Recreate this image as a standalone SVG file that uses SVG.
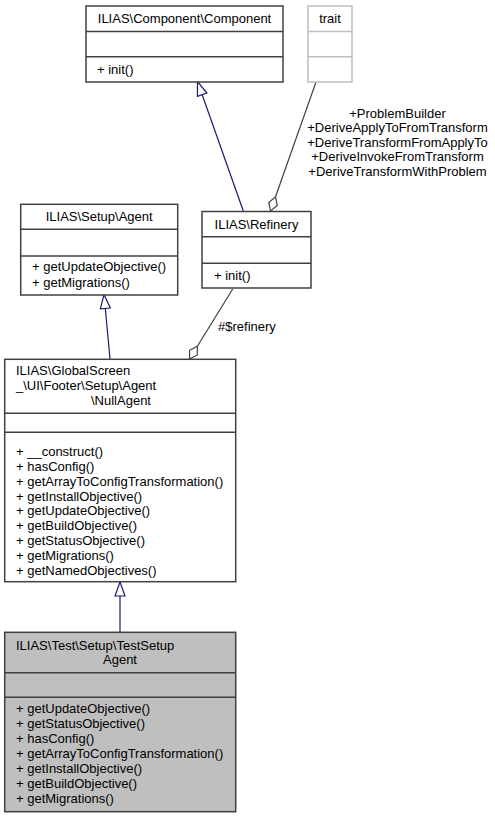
<svg xmlns="http://www.w3.org/2000/svg" width="495" height="817" viewBox="0 0 495 817">
<style>
text{font-family:"Liberation Sans",Arial,sans-serif;font-size:13px;fill:#000}
.box{fill:#fff;stroke:#404040;stroke-width:1.5}
.cur{fill:#bfbfbf;stroke:#404040;stroke-width:1.5}
.tr{fill:#fff;stroke:#bfbfbf;stroke-width:1.5}
.sep{stroke:#404040;stroke-width:1.5}
.tsep{stroke:#bfbfbf;stroke-width:1.5}
.inh{stroke:#191970;stroke-width:1.2;fill:none}
.agg{stroke:#404040;stroke-width:1.2;fill:none}
.c{text-anchor:middle}
</style>
<defs>
<marker id="tri" markerUnits="userSpaceOnUse" markerWidth="16" markerHeight="12" viewBox="-1 -6 16 12" refX="14" refY="0" orient="auto">
<path d="M0,-5 L14,0 L0,5 Z" fill="#fff" stroke="#191970" stroke-width="1.2"/>
</marker>
<marker id="dia" markerUnits="userSpaceOnUse" markerWidth="17" markerHeight="12" viewBox="-1 -6 17 12" refX="15" refY="0" orient="auto">
<path d="M0,0 L7.5,-4.5 L15,0 L7.5,4.5 Z" fill="#fff" stroke="#404040" stroke-width="1.2"/>
</marker>
</defs>
<g id="connectors">
<line class="inh" x1="243.3" y1="211" x2="197.5" y2="81.5" marker-end="url(#tri)"/>
<line class="agg" x1="316" y1="82" x2="270.5" y2="211" marker-end="url(#dia)"/>
<text class="c" x="397.5" y="117.5">+ProblemBuilder</text>
<text class="c" x="397.5" y="132">+DeriveApplyToFromTransform</text>
<text class="c" x="397.5" y="146.7">+DeriveTransformFromApplyTo</text>
<text class="c" x="397.5" y="161.2">+DeriveInvokeFromTransform</text>
<text class="c" x="397.5" y="175.8">+DeriveTransformWithProblem</text>
<line class="inh" x1="110" y1="359" x2="104" y2="294.5" marker-end="url(#tri)"/>
<line class="agg" x1="232.7" y1="289" x2="189.5" y2="359" marker-end="url(#dia)"/>
<text x="218" y="331">#$refinery</text>
<line class="inh" x1="120" y1="632" x2="120" y2="582" marker-end="url(#tri)"/>
</g>
<g id="component">
<rect class="box" x="86" y="6" width="197" height="76"/>
<line class="sep" x1="86" y1="31.5" x2="283" y2="31.5"/>
<line class="sep" x1="86" y1="56.7" x2="283" y2="56.7"/>
<text class="c" x="184.5" y="22.7">ILIAS\Component\Component</text>
<text x="97" y="73.5">+ init()</text>
</g>
<g id="trait">
<rect class="tr" x="308" y="6" width="44" height="76"/>
<line class="tsep" x1="308" y1="31.5" x2="352" y2="31.5"/>
<line class="tsep" x1="308" y1="56.7" x2="352" y2="56.7"/>
<text class="c" x="330" y="22.7">trait</text>
</g>
<g id="setup_agent">
<rect class="box" x="20.7" y="204.3" width="157" height="90.7"/>
<line class="sep" x1="20.7" y1="229.3" x2="177.7" y2="229.3"/>
<line class="sep" x1="20.7" y1="256" x2="177.7" y2="256"/>
<text class="c" x="99.2" y="221.2">ILIAS\Setup\Agent</text>
<text x="32" y="271.2">+ getUpdateObjective()</text>
<text x="32" y="286.8">+ getMigrations()</text>
</g>
<g id="refinery">
<rect class="box" x="202" y="211.5" width="109" height="76.5"/>
<line class="sep" x1="202" y1="236.7" x2="311" y2="236.7"/>
<line class="sep" x1="202" y1="263.3" x2="311" y2="263.3"/>
<text class="c" x="256.5" y="229">ILIAS\Refinery</text>
<text x="214" y="280">+ init()</text>
</g>
<g id="null_agent">
<rect class="box" x="4.7" y="359.3" width="231" height="222.4"/>
<line class="sep" x1="4.7" y1="413.3" x2="235.7" y2="413.3"/>
<line class="sep" x1="4.7" y1="432.3" x2="235.7" y2="432.3"/>
<text x="16" y="374.5">ILIAS\GlobalScreen</text>
<text x="16" y="389.5">_\UI\Footer\Setup\Agent</text>
<text class="c" x="121" y="404.5">\NullAgent</text>
<text x="16" y="456.2">+ __construct()</text>
<text x="16" y="471">+ hasConfig()</text>
<text x="16" y="485.8">+ getArrayToConfigTransformation()</text>
<text x="16" y="500.5">+ getInstallObjective()</text>
<text x="16" y="515.3">+ getUpdateObjective()</text>
<text x="16" y="530.1">+ getBuildObjective()</text>
<text x="16" y="544.9">+ getStatusObjective()</text>
<text x="16" y="559.7">+ getMigrations()</text>
<text x="16" y="574.5">+ getNamedObjectives()</text>
</g>
<g id="test_setup_agent">
<rect class="cur" x="4.7" y="632.3" width="231" height="179.4"/>
<line class="sep" x1="4.7" y1="672.7" x2="235.7" y2="672.7"/>
<line class="sep" x1="4.7" y1="697.3" x2="235.7" y2="697.3"/>
<text x="16" y="649.5">ILIAS\Test\Setup\TestSetup</text>
<text class="c" x="120" y="664">Agent</text>
<text x="16" y="712.8">+ getUpdateObjective()</text>
<text x="16" y="727.8">+ getStatusObjective()</text>
<text x="16" y="742.8">+ hasConfig()</text>
<text x="16" y="757.8">+ getArrayToConfigTransformation()</text>
<text x="16" y="772.8">+ getInstallObjective()</text>
<text x="16" y="787.8">+ getBuildObjective()</text>
<text x="16" y="802.8">+ getMigrations()</text>
</g>
</svg>
